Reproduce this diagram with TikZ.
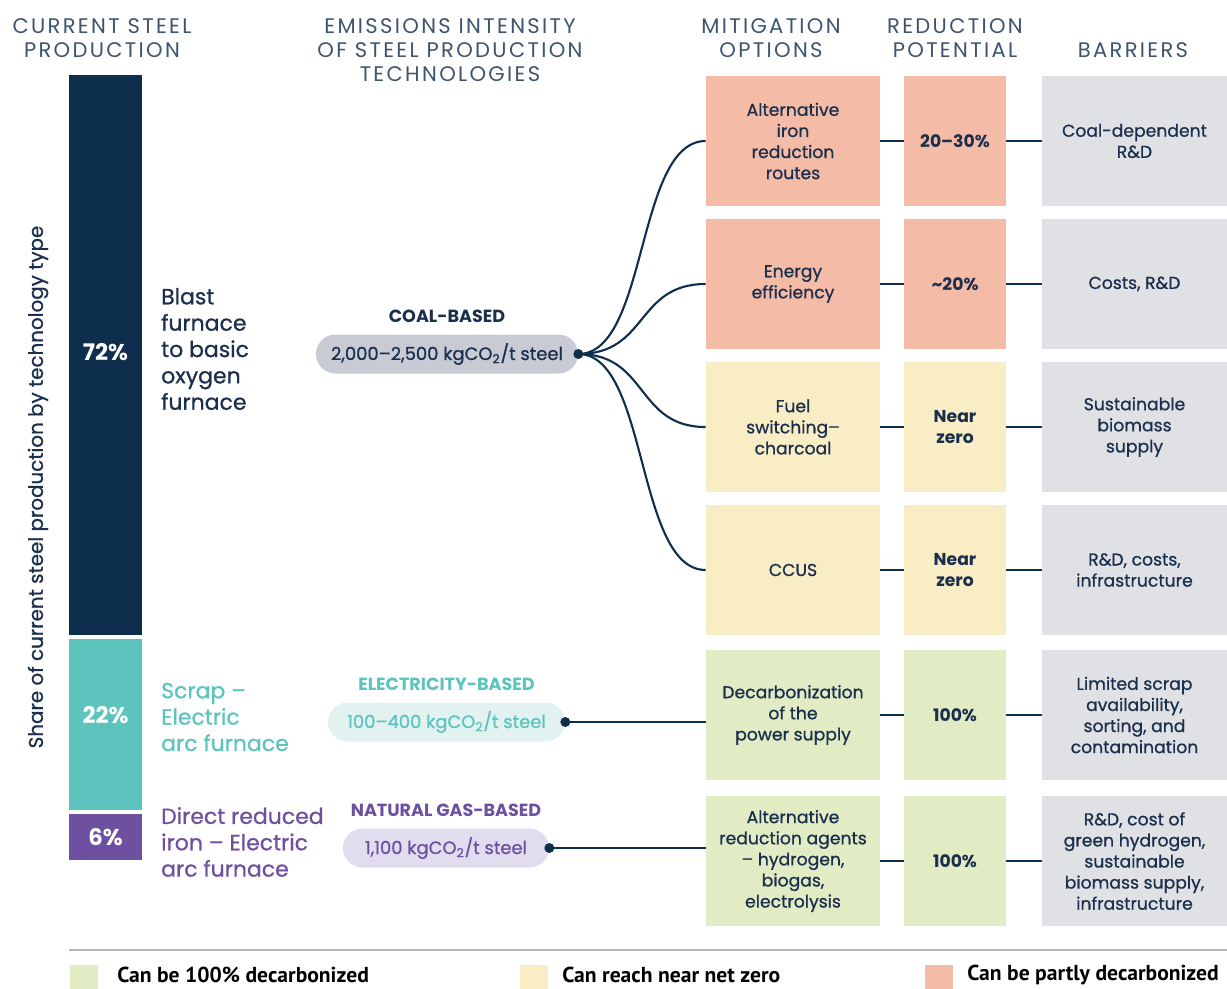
\documentclass[tikz,border=0pt]{standalone}
\usepackage{fontspec}
\setmainfont{Poppins}
\newfontfamily\legendfont{PT Sans}
\newfontfamily\medfont[FakeBold=0.8]{Poppins}
\usetikzlibrary{positioning,calc}

\definecolor{navy}{HTML}{0E2E4E}
\definecolor{inknavy}{HTML}{1B2F4D}
\definecolor{headgray}{HTML}{3E546E}
\definecolor{tealbar}{HTML}{5CC4BD}
\definecolor{purplebar}{HTML}{6E50A0}
\definecolor{salmon}{HTML}{F4BBA7}
\definecolor{sand}{HTML}{F8EDC4}
\definecolor{lime}{HTML}{E1ECC5}
\definecolor{barriergray}{HTML}{E0E1E4}
\definecolor{pillgray}{HTML}{C9CBD4}
\definecolor{pillteal}{HTML}{E2F2F0}
\definecolor{pillpurple}{HTML}{E1DCEE}
\definecolor{rulegray}{HTML}{A7B7C5}

\tikzset{
  header/.style   = {align=center, text=headgray,
                     font=\fontsize{12}{13.6}\selectfont\addfontfeature{LetterSpace=11}},
  sharebar/.style = {minimum width=1.46cm, inner sep=0pt},
  sharetext/.style = {text=white, font=\fontsize{13}{15}\selectfont\bfseries},
  routelabel/.style = {anchor=west, align=left,
                     font=\medfont\fontsize{12.5}{15}\selectfont},
  pill/.style     = {minimum height=0.78cm, rounded corners=0.39cm, inner sep=0pt,
                     font=\medfont\fontsize{10.2}{12}\selectfont},
  catlabel/.style = {inner sep=0pt, font=\fontsize{10}{12}\selectfont\bfseries},
  dot/.style      = {circle, fill=navy, inner sep=0pt, minimum size=0.2cm},
  link/.style     = {draw=navy, line width=1.2pt},
  mitbox/.style   = {minimum width=3.48cm, minimum height=2.6cm, align=center,
                     inner sep=2pt, text=inknavy, font=\medfont\fontsize{9.8}{12}\selectfont},
  redbox/.style   = {minimum width=2.04cm, minimum height=2.6cm, align=center,
                     inner sep=2pt, text=inknavy, font=\fontsize{9.8}{12}\selectfont\bfseries},
  barbox/.style   = {minimum width=3.7cm, minimum height=2.6cm, align=center,
                     inner sep=2pt, fill=barriergray, text=inknavy,
                     font=\medfont\fontsize{9.8}{12}\selectfont},
  legkey/.style   = {minimum width=0.56cm, minimum height=0.5cm, inner sep=0pt},
  legtext/.style  = {anchor=west, inner sep=0pt, text=black,
                     font=\legendfont\fontsize{12.3}{14}\selectfont\bfseries},
}

\begin{document}
\begin{tikzpicture}[x=0.02cm, y=-0.02cm]

    \useasboundingbox (0,0) rectangle (1227,988);

    % Column headers
    \node[header] (hcur) at (102,38)  {CURRENT STEEL\\PRODUCTION};
    \node[header] (hemi) at (450,50)  {EMISSIONS INTENSITY\\OF STEEL PRODUCTION\\TECHNOLOGIES};
    \node[header] (hmit) at (771,38)  {MITIGATION\\OPTIONS};
    \node[header] (hred) at (955,38)  {REDUCTION\\POTENTIAL};
    \node[header] (hbar) at (1133,50) {BARRIERS};

    % --- LEFT: SHARE BARS ---
    \node[rotate=90, text=inknavy, font=\medfont\fontsize{11.3}{13}\selectfont] (share) at (38,487)
        {Share of current steel production by technology type};

    \node[sharebar, fill=navy,      minimum height=11.2cm] (bfbar)    at (105.5,355)   {};
    \node[sharebar, fill=tealbar,   minimum height=3.42cm] (scrapbar) at (105.5,724.5) {};
    \node[sharebar, fill=purplebar, minimum height=0.92cm] (dribar)   at (105.5,837)   {};
    \node[sharetext] (bfshare)    at (105.5,352) {72\%};
    \node[sharetext] (scrapshare) at (105.5,715) {22\%};
    \node[sharetext] (drishare)   at (105.5,837) {6\%};

    \node[routelabel, text=inknavy]   (bflabel)    at (155,349) {Blast\\furnace\\to basic\\oxygen\\furnace};
    \node[routelabel, text=tealbar]   (scraplabel) at (155,717) {Scrap –\\Electric\\arc furnace};
    \node[routelabel, text=purplebar] (drilabel)   at (155,842) {Direct reduced\\iron – Electric\\arc furnace};

    % --- CENTER: EMISSIONS INTENSITY ---
    \node[pill, fill=pillgray, text=inknavy, minimum width=5.24cm] (coal) at (447,354)
        {2,000–2,500 kgCO\textsubscript{2}/t steel};
    \node[pill, fill=pillteal, text=tealbar, minimum width=4.74cm] (elec) at (446.5,722)
        {100–400 kgCO\textsubscript{2}/t steel};
    \node[pill, fill=pillpurple, text=purplebar, minimum width=4.12cm] (gas) at (446,848)
        {1,100 kgCO\textsubscript{2}/t steel};

    \node[catlabel, text=inknavy,   above=0.22cm of coal] (coalcat) {COAL-BASED};
    \node[catlabel, text=tealbar,   above=0.22cm of elec] (eleccat) {ELECTRICITY-BASED};
    \node[catlabel, text=purplebar, above=0.22cm of gas]  (gascat)  {NATURAL GAS-BASED};

    % --- RIGHT: OPTIONS, POTENTIAL, BARRIERS ---
    \foreach \i/\y/\clr/\mtxt/\rtxt/\btxt in {
        1/141/salmon/{Alternative\\iron\\reduction\\routes}/{20–30\%}/{Coal-dependent\\R\&D},
        2/284/salmon/{Energy\\efficiency}/{\textasciitilde20\%}/{Costs, R\&D},
        3/427/sand/{Fuel\\switching–\\charcoal}/{Near\\zero}/{Sustainable\\biomass\\supply},
        4/570/sand/{CCUS}/{Near\\zero}/{R\&D, costs,\\infrastructure},
        5/715/lime/{Decarbonization\\of the\\power supply}/{100\%}/{Limited scrap\\availability,\\sorting, and\\contamination},
        6/861/lime/{Alternative\\reduction agents\\– hydrogen,\\biogas,\\electrolysis}/{100\%}/{R\&D, cost of\\green hydrogen,\\sustainable\\biomass supply,\\infrastructure}} {
        \node[mitbox, fill=\clr] (mit\i) at (793,\y)    {\mtxt};
        \node[redbox, fill=\clr] (red\i) at (955,\y)    {\rtxt};
        \node[barbox]            (bar\i) at (1134.5,\y) {\btxt};
        \draw[link] (mit\i.east) -- (red\i.west);
        \draw[link] (red\i.east) -- (bar\i.west);
    }

    % connectors from the intensity pills
    \node[dot] (coaldot) at (coal.east) {};
    \node[dot] (elecdot) at (elec.east) {};
    \node[dot] (gasdot)  at (gas.east)  {};

    \foreach \i in {1,...,4}
        \draw[link] (coaldot.center) .. controls +(70,0) and +(-70,0) .. (mit\i.west);
    \draw[link] (elecdot.center) -- (elecdot -| mit5.west);
    \draw[link] (gasdot.center)  -- (gasdot -| mit6.west);

    % --- LEGEND ---
    \draw[rulegray, line width=1pt] (69,950) -- (1227,950);

    \node[legkey, fill=lime,   anchor=north west] (key1) at (70,965)  {};
    \node[legkey, fill=sand,   anchor=north west] (key2) at (520,965) {};
    \node[legkey, fill=salmon, anchor=north west] (key3) at (925,965) {};
    \node[legtext] (leg1) at (117,975) {Can be 100\% decarbonized};
    \node[legtext] (leg2) at (562,975) {Can reach near net zero};
    \node[legtext] (leg3) at (967,975) {Can be partly decarbonized};

\end{tikzpicture}
\end{document}
